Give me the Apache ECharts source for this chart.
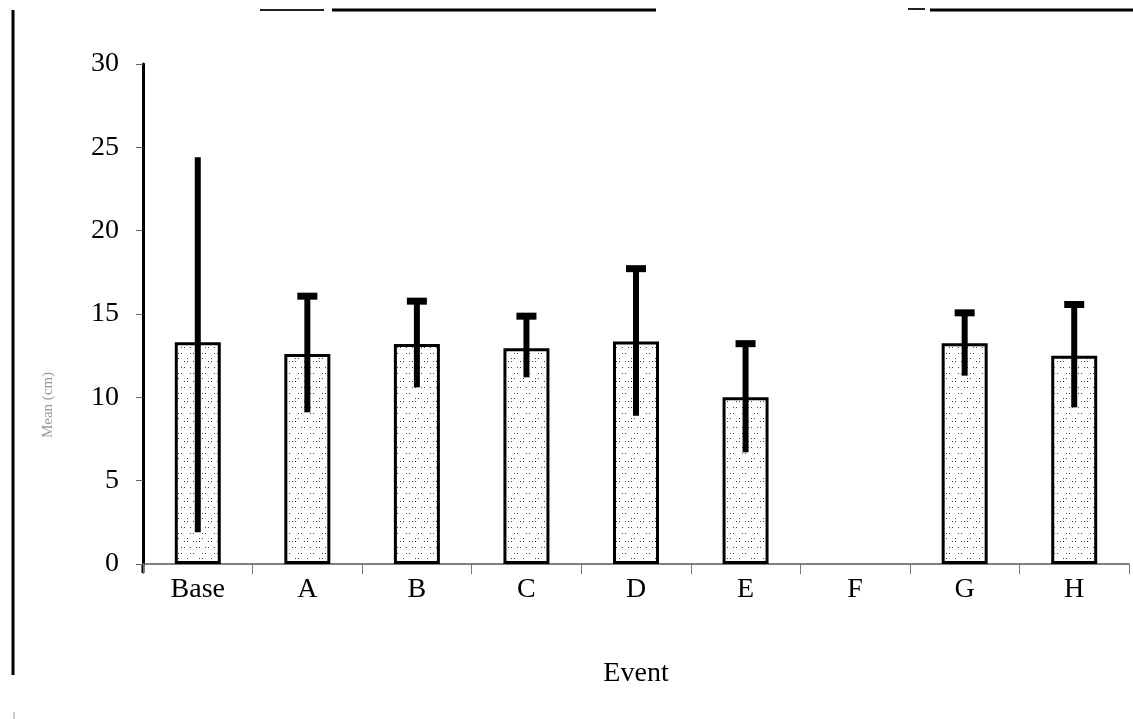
<!DOCTYPE html>
<html><head><meta charset="utf-8">
<script src="https://cdn.jsdelivr.net/npm/echarts@6/dist/echarts.min.js"></script>
<style>html,body{margin:0;padding:0;background:#fff}#c{width:1133px;height:719px}</style>
</head><body><div id="c"></div>
<script>
const categories = ['Base', 'A', 'B', 'C', 'D', 'E', 'F', 'G', 'H'];
const means      = [13.3, 12.6, 13.2, 12.95, 13.35, 10.0, null, 13.25, 12.5];
const lowerEnds  = [1.9, 9.1, 10.6, 11.2, 8.9, 6.7, null, 11.3, 9.4];
const upperEnds  = [24.4, 16.1, 15.8, 14.9, 17.75, 13.25, null, 15.1, 15.6];
const xAxisTitle = 'Event';
const yAxisTitle = 'Mean (cm)';

// stipple texture for bar fill
const pat = document.createElement('canvas');
pat.width = 24; pat.height = 20;
const pc = pat.getContext('2d');
pc.fillStyle = '#fff'; pc.fillRect(0, 0, 24, 20);
pc.fillStyle = '#444';
const dotRows = [[1, [1,4,7,16,19]], [7, [4,7,13,16,22]], [13, [1,10,13,22]], [18, [7,10,19]]];
dotRows.forEach(([y, xs]) => xs.forEach(x => pc.fillRect(x, y, 1, 1)));

const errData = [];
categories.forEach((c, i) => {
  if (lowerEnds[i] != null) errData.push([i, lowerEnds[i], upperEnds[i]]);
});

const chart = echarts.init(document.getElementById('c'));
const serif = '"Liberation Serif", "DejaVu Serif", serif';
chart.setOption({
  animation: false,
  backgroundColor: '#fff',
  grid: { left: 143, right: 4, top: 64, bottom: 155 },
  xAxis: {
    type: 'category',
    data: categories,
    name: xAxisTitle,
    nameLocation: 'middle',
    nameGap: 96,
    nameTextStyle: { fontFamily: serif, fontSize: 28, color: '#000' },
    axisLine: { lineStyle: { color: '#555', width: 1.5 } },
    axisTick: { show: true, length: 10, lineStyle: { color: '#777', width: 1 } },
    axisLabel: { fontFamily: serif, fontSize: 28, color: '#000', margin: 12 }
  },
  yAxis: {
    type: 'value',
    min: 0, max: 30, interval: 5,
    axisLine: { show: true, lineStyle: { color: '#000', width: 3 } },
    axisTick: { show: true, length: 7, lineStyle: { color: '#666', width: 1 } },
    axisLabel: { fontFamily: serif, fontSize: 28, color: '#000', margin: 24, padding: [8, 0, 0, 0] },
    splitLine: { show: false }
  },
  series: [
    {
      type: 'bar',
      data: means,
      barWidth: 46,
      itemStyle: {
        color: { image: pat, repeat: 'repeat' },
        borderColor: '#000',
        borderWidth: 3
      },
      z: 2
    },
    {
      type: 'custom',
      data: errData,
      z: 5,
      renderItem: function (params, api) {
        const i = api.value(0);
        const pLo = api.coord([i, api.value(1)]);
        const pHi = api.coord([i, api.value(2)]);
        const children = [{
          type: 'line',
          shape: { x1: pLo[0], y1: pLo[1], x2: pHi[0], y2: pHi[1] },
          style: { stroke: '#000', lineWidth: 6 }
        }];
        if (i !== 0) {
          children.push({
            type: 'rect',
            shape: { x: pHi[0] - 10, y: pHi[1] - 3, width: 20, height: 7 },
            style: { fill: '#000' }
          });
        }
        return { type: 'group', children: children };
      }
    }
  ],
  graphic: [
    { type: 'text', x: 48, y: 405, rotation: Math.PI / 2,
      style: { text: yAxisTitle, font: '15px ' + serif, fill: '#999', align: 'center', verticalAlign: 'middle' } },
    { type: 'line', shape: { x1: 143, y1: 564, x2: 143, y2: 573 }, style: { stroke: '#000', lineWidth: 3 } },
    { type: 'line', shape: { x1: 13, y1: 10, x2: 13, y2: 675 }, style: { stroke: '#000', lineWidth: 3 } },
    { type: 'line', shape: { x1: 14, y1: 712, x2: 14, y2: 719 }, style: { stroke: '#999', lineWidth: 1 } },
    { type: 'line', shape: { x1: 260, y1: 10, x2: 324, y2: 10 }, style: { stroke: '#222', lineWidth: 2 } },
    { type: 'line', shape: { x1: 332, y1: 10, x2: 656, y2: 10 }, style: { stroke: '#000', lineWidth: 3 } },
    { type: 'line', shape: { x1: 908, y1: 9, x2: 925, y2: 9 }, style: { stroke: '#222', lineWidth: 2 } },
    { type: 'line', shape: { x1: 930, y1: 10, x2: 1133, y2: 10 }, style: { stroke: '#000', lineWidth: 3 } }
  ]
});
</script>
</body></html>
